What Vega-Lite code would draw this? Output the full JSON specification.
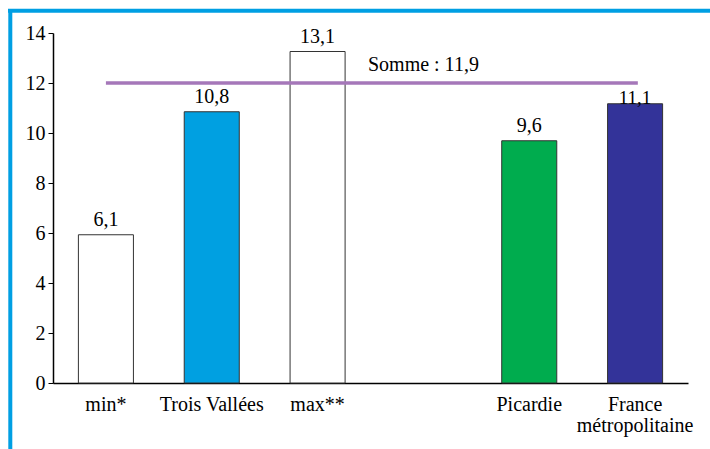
{
  "$schema": "https://vega.github.io/schema/vega-lite/v6.json",
  "width": 635,
  "height": 350,
  "autosize": {"type": "none"},
  "padding": {"left": 53, "top": 33, "right": 22, "bottom": 66},
  "background": "white",
  "config": {
    "view": {"stroke": null},
    "font": "'Liberation Serif', 'Times New Roman', serif",
    "text": {"font": "'Liberation Serif', 'Times New Roman', serif"},
    "axis": {"labelFont": "'Liberation Serif', 'Times New Roman', serif", "labelFontSize": 20, "labelColor": "black", "grid": false, "domainColor": "black", "domainWidth": 1.5, "tickColor": "black", "title": null}
  },
  "datasets": {
    "barres": [
      {"zone": "min*", "hauteur": 5.93, "etiquette": "6,1", "couleur": "#ffffff"},
      {"zone": "Trois Vallées", "hauteur": 10.85, "etiquette": "10,8", "couleur": "#00a0e1"},
      {"zone": "max**", "hauteur": 13.26, "etiquette": "13,1", "couleur": "#ffffff"},
      {"zone": "Picardie", "hauteur": 9.69, "etiquette": "9,6", "couleur": "#00ac4e"},
      {"zone": "France métropolitaine", "hauteur": 11.17, "etiquette": "11,1", "couleur": "#333399"}
    ],
    "somme": [
      {"debut": "min*", "fin": "France métropolitaine", "milieu": " ", "valeur": 12, "texte": "Somme : 11,9"}
    ]
  },
  "layer": [
    {
      "data": {"name": "barres"},
      "mark": {"type": "bar", "stroke": "#333333", "strokeWidth": 1},
      "encoding": {
        "x": {
          "field": "zone", "type": "nominal",
          "scale": {"domain": ["min*", "Trois Vallées", "max**", " ", "Picardie", "France métropolitaine"], "paddingInner": 0.48, "paddingOuter": 0.24},
          "axis": {"ticks": false, "labelAngle": 0, "labelPadding": 11, "labelLineHeight": 21, "labelExpr": "datum.value == 'France métropolitaine' ? ['France', 'métropolitaine'] : datum.label"}
        },
        "y": {
          "field": "hauteur", "type": "quantitative",
          "scale": {"domain": [0, 14], "nice": false},
          "axis": {"values": [0, 2, 4, 6, 8, 10, 12, 14], "tickSize": 5, "labelPadding": 3}
        },
        "fill": {"field": "couleur", "type": "nominal", "scale": null}
      }
    },
    {
      "data": {"name": "barres"},
      "transform": [{"filter": "datum.zone != 'France métropolitaine'"}],
      "mark": {"type": "text", "baseline": "alphabetic", "dy": -9, "fontSize": 20, "color": "black"},
      "encoding": {
        "x": {"field": "zone", "type": "nominal"},
        "y": {"field": "hauteur", "type": "quantitative"},
        "text": {"field": "etiquette"}
      }
    },
    {
      "data": {"name": "barres"},
      "transform": [{"filter": "datum.zone == 'France métropolitaine'"}],
      "mark": {"type": "text", "baseline": "alphabetic", "dy": 0, "fontSize": 19, "color": "black"},
      "encoding": {
        "x": {"field": "zone", "type": "nominal"},
        "y": {"field": "hauteur", "type": "quantitative"},
        "text": {"field": "etiquette"}
      }
    },
    {
      "data": {"name": "somme"},
      "mark": {"type": "rule", "color": "#a577b9", "strokeWidth": 3.5},
      "encoding": {
        "x": {"field": "debut", "type": "nominal", "bandPosition": 0.5},
        "x2": {"field": "fin", "bandPosition": 0.55},
        "y": {"field": "valeur", "type": "quantitative"}
      }
    },
    {
      "data": {"name": "somme"},
      "mark": {"type": "text", "baseline": "alphabetic", "dy": -12, "fontSize": 20, "color": "black"},
      "encoding": {
        "x": {"field": "milieu", "type": "nominal"},
        "y": {"field": "valeur", "type": "quantitative"},
        "text": {"field": "texte"}
      }
    },
    {
      "data": {"values": [{}]},
      "mark": {"type": "rule", "color": "#009fe3", "strokeWidth": 4, "clip": false},
      "encoding": {
        "x": {"value": -45},
        "x2": {"value": 680},
        "y": {"value": -22.2}
      }
    },
    {
      "data": {"values": [{}]},
      "mark": {"type": "rule", "color": "#009fe3", "strokeWidth": 4, "clip": false},
      "encoding": {
        "x": {"value": -42.7},
        "y": {"value": -24},
        "y2": {"value": 430}
      }
    }
  ]
}
